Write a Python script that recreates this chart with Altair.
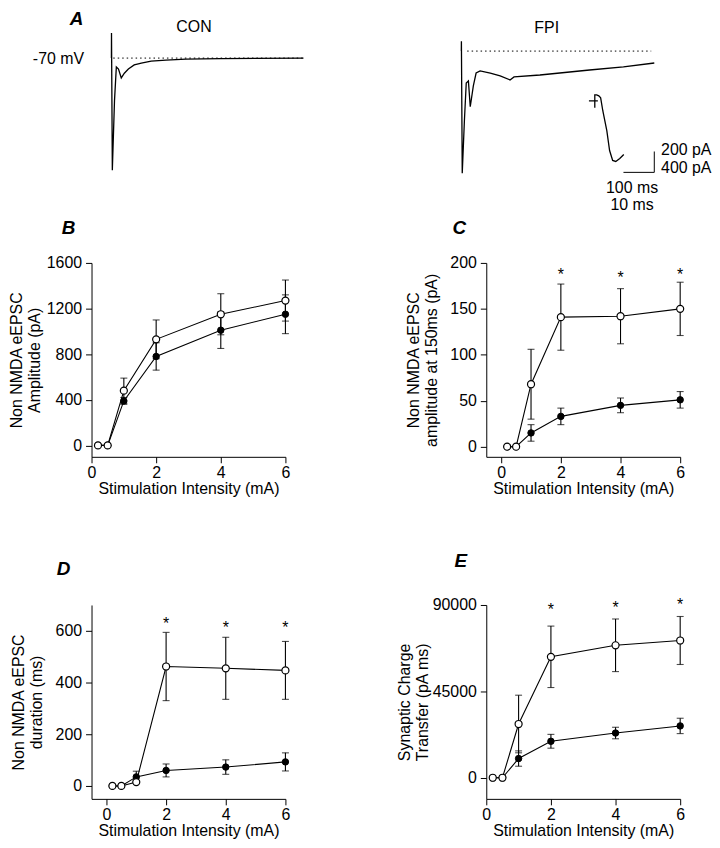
import altair as alt
import pandas as pd

FONT = "Liberation Sans"

# ---------------- Panel A: example traces (ms, pA relative to holding level) ----------------
con_t = [0, 0.3, 3, 10, 16, 23, 32, 42, 55, 74, 97, 129, 177, 242, 355, 623]
con_i = [0, 240, -1075, -410, -85, -105, -190, -145, -105, -65, -48, -29, -19, -10, -5, 0]
con_dot_t = [6, 623]

fpi_t = [0, 0.3, 3, 10, 16, 23, 29, 39, 48, 61, 94, 126, 158, 171, 255, 416, 526, 626]
fpi_i = [0, 95, -1170, -667, -305, -286, -533, -333, -210, -190, -210, -238, -276, -248,
         -229, -181, -152, -114]
fpi_dot_t = [19, 616]

# inset: first 10 ms of the FPI response
inset_t = [-1.9, 1.0, 0, 0, 0, 0.6, 1.3, 1.9, 2.6, 3.9, 4.8, 5.8, 6.8, 8.1, 9.4]
inset_i = [0, 0, 0, -133, 114, 114, 95, 57, -190, -571, -952, -1143, -1162, -1105, -1029]

# scale bar (FPI units) and its labels
bar_t0 = [526, 626]
bar_t1 = [626, 626]
bar_i0 = [-1162, -1162]
bar_i1 = [-1162, -962]
bar_labels_side = ["200 pA", "400 pA"]
bar_side_t = [648, 648]
bar_side_i = [-952, -1124]
bar_labels_below = ["100 ms", "10 ms"]
bar_below_t = [554, 554]
bar_below_i = [-1314, -1476]

# ---------------- Panels B-E ----------------
stim = [0.2, 0.5, 1, 2, 4, 6]

b_open = [0, 0, 480, 930, 1150, 1270]
b_open_err = [0, 0, 110, 170, 180, 180]
b_filled = [0, 0, 390, 780, 1010, 1150]
b_filled_err = [0, 0, 30, 120, 160, 170]

c_open = [0, 0, 68, 141, 142, 150]
c_open_err = [0, 0, 38, 36, 30, 29]
c_filled = [0, 0, 15, 33, 45, 51]
c_filled_err = [0, 0, 9, 9, 8, 9]

d_open = [0, 0, 15, 462, 455, 447]
d_open_err = [0, 0, 0, 132, 120, 112]
d_filled = [0, 0, 35, 60, 73, 93]
d_filled_err = [0, 0, 22, 25, 28, 35]

e_open = [0, 0, 28000, 63000, 69000, 71500]
e_open_err = [0, 0, 15000, 16000, 13700, 12500]
e_filled = [0, 0, 10000, 19000, 23300, 27000]
e_filled_err = [0, 0, 4000, 3600, 3000, 4000]

star_x = [2, 4, 6]
c_star = [191, 188, 191]
d_star = [642, 627, 627]
e_star = [89500, 90500, 92000]

XTICKS = [0, 2, 4, 6]
X_TITLE = "Stimulation Intensity (mA)"

W = 195
H = 195
HA = 74


def trace_df(t, i):
    return pd.DataFrame({"t": t, "i": i, "idx": list(range(len(t)))})


# ---------------- CON panel ----------------
con_xs = alt.Scale(domain=[-64.5, 564.5], nice=False, zero=False)
con_ys = alt.Scale(domain=[-543, 162], nice=False, zero=False)
con_yaxis = alt.Axis(values=[0], labelExpr="'-70 mV'", domain=False, ticks=False,
                     labelPadding=8, labelFontSize=16, title=None, grid=False)


def cx(field):
    return alt.X(field, type="quantitative", scale=con_xs, axis=None)


def cy(field):
    return alt.Y(field, type="quantitative", scale=con_ys, axis=con_yaxis)


con_trace = alt.Chart(trace_df(con_t, con_i)).mark_line(
    color="black", strokeWidth=1.3).encode(x=cx("t"), y=cy("i"), order="idx:Q")
con_dots = alt.Chart(pd.DataFrame({"t0": [con_dot_t[0]], "t1": [con_dot_t[1]], "i": [0]})).mark_rule(
    color="black", strokeDash=[1.5, 3], strokeWidth=1).encode(x=cx("t0"), x2="t1:Q", y=cy("i"))
con_letter = alt.Chart(pd.DataFrame({"t": [-135], "i": [314], "s": ["A"]})).mark_text(
    align="left", baseline="alphabetic", fontSize=19, fontStyle="italic", fontWeight="bold",
    color="black").encode(x=cx("t"), y=cy("i"), text="s:N")
con_label = alt.Chart(pd.DataFrame({"t": [268], "i": [248], "s": ["CON"]})).mark_text(
    align="center", baseline="alphabetic", fontSize=16, color="black").encode(
    x=cx("t"), y=cy("i"), text="s:N")

con_chart = alt.layer(con_trace, con_dots, con_letter, con_label).properties(width=W, height=HA)

# ---------------- FPI panel ----------------
fpi_xs = alt.Scale(domain=[81, 710], nice=False, zero=False)
fpi_ys = alt.Scale(domain=[-610, 95], nice=False, zero=False)
ins_xs = alt.Scale(domain=[-35.2, 27.7], nice=False, zero=False)
ins_ys = alt.Scale(domain=[-267, 1143], nice=False, zero=False)


def fx(field, s=fpi_xs):
    return alt.X(field, type="quantitative", scale=s, axis=None)


def fy(field, s=fpi_ys):
    return alt.Y(field, type="quantitative", scale=s, axis=None)


fpi_trace = alt.Chart(trace_df(fpi_t, fpi_i)).mark_line(
    color="black", strokeWidth=1.3).encode(x=fx("t"), y=fy("i"), order="idx:Q")
fpi_dots = alt.Chart(pd.DataFrame({"t0": [fpi_dot_t[0]], "t1": [fpi_dot_t[1]], "i": [0]})).mark_rule(
    color="black", strokeDash=[1.5, 3], strokeWidth=1).encode(x=fx("t0"), x2="t1:Q", y=fy("i"))
inset_trace = alt.Chart(trace_df(inset_t, inset_i)).mark_line(
    color="black", strokeWidth=1.3).encode(x=fx("t", ins_xs), y=fy("i", ins_ys), order="idx:Q")
bar = alt.Chart(pd.DataFrame({"t0": bar_t0, "t1": bar_t1, "i0": bar_i0, "i1": bar_i1})).mark_rule(
    color="black", strokeWidth=1).encode(x=fx("t0"), x2="t1:Q", y=fy("i0"), y2="i1:Q")
bar_side = alt.Chart(pd.DataFrame({"t": bar_side_t, "i": bar_side_i, "s": bar_labels_side})).mark_text(
    align="left", baseline="middle", fontSize=16, color="black").encode(
    x=fx("t"), y=fy("i"), text="s:N")
bar_below = alt.Chart(pd.DataFrame({"t": bar_below_t, "i": bar_below_i, "s": bar_labels_below})).mark_text(
    align="center", baseline="middle", fontSize=16, color="black").encode(
    x=fx("t"), y=fy("i"), text="s:N")
fpi_label = alt.Chart(pd.DataFrame({"t": [277], "i": [172], "s": ["FPI"]})).mark_text(
    align="center", baseline="alphabetic", fontSize=16, color="black").encode(
    x=fx("t"), y=fy("i"), text="s:N")

fpi_chart = alt.layer(fpi_trace, fpi_dots, inset_trace, bar, bar_side, bar_below, fpi_label).resolve_scale(
    x="independent", y="independent").properties(width=W, height=HA)


# ---------------- summary panels ----------------
def summary_panel(letter, dx, offset, open_v, open_e, filled_v, filled_e, xdomain, ydomain,
                  yticks, ytitle, title_pad, stars=None):
    rows = []
    for s, vals, errs in (("filled", filled_v, filled_e), ("open", open_v, open_e)):
        for x, v, e in zip(stim, vals, errs):
            rows.append(dict(stim=x, val=v, lo=v - e, hi=v + e, err=e, series=s))
    df = pd.DataFrame(rows)

    xs = alt.Scale(domain=xdomain, nice=False, zero=False)
    ys = alt.Scale(domain=ydomain, nice=False, zero=False)
    xaxis = alt.Axis(values=XTICKS, title=X_TITLE, labelPadding=2, titlePadding=0,
                     labelFlush=False, format="d")
    yaxis = alt.Axis(values=yticks, title=ytitle, labelPadding=4, titlePadding=title_pad,
                     labelFlush=False, format="d", titleLineHeight=18)

    def X(field):
        return alt.X(field, type="quantitative", scale=xs, axis=xaxis)

    def Y(field):
        return alt.Y(field, type="quantitative", scale=ys, axis=yaxis)

    base = alt.Chart(df)
    lines = base.mark_line(color="black", strokeWidth=1.1).encode(
        x=X("stim"), y=Y("val"), detail="series:N")
    errs = base.transform_filter("datum.err > 0").mark_rule(color="black", strokeWidth=1.1).encode(
        x=X("stim"), y=Y("lo"), y2="hi:Q")
    caps = base.transform_filter("datum.err > 0").transform_fold(
        ["lo", "hi"], as_=["end", "yv"]).mark_tick(
        orient="horizontal", size=7, thickness=1.1, color="black").encode(x=X("stim"), y=Y("yv"))
    filled_pts = base.transform_filter("datum.series == 'filled'").mark_point(
        shape="circle", filled=True, fill="black", stroke="black", strokeWidth=1, size=42,
        opacity=1).encode(x=X("stim"), y=Y("val"))
    open_pts = base.transform_filter("datum.series == 'open'").mark_point(
        shape="circle", filled=True, fill="white", stroke="black", strokeWidth=1.2, size=50,
        opacity=1).encode(x=X("stim"), y=Y("val"))
    layers = [lines, errs, caps, filled_pts, open_pts]
    if stars is not None:
        sdf = pd.DataFrame({"stim": star_x, "val": stars})
        layers.append(alt.Chart(sdf).mark_text(text="*", fontSize=16, baseline="middle", dy=4,
                                               color="black").encode(x=X("stim"), y=Y("val")))
    return alt.layer(*layers).properties(
        width=W, height=H,
        title=alt.TitleParams(letter, anchor="start", frame="group", dx=dx, offset=offset,
                              fontSize=19, fontStyle="italic", fontWeight="bold", font=FONT,
                              color="black"))


b_chart = summary_panel("B", -30, 17, b_open, b_open_err, b_filled, b_filled_err,
                        [0, 6], [-100, 1600], [0, 400, 800, 1200, 1600],
                        ["Non NMDA eEPSC", "Amplitude (pA)"], 4)
c_chart = summary_panel("C", -34, 17, c_open, c_open_err, c_filled, c_filled_err,
                        [-0.5, 6], [-11, 200], [0, 50, 100, 150, 200],
                        ["Non NMDA eEPSC", "amplitude at 150ms (pA)"], 10, c_star)
d_chart = summary_panel("D", -35, 26, d_open, d_open_err, d_filled, d_filled_err,
                        [-0.5, 6], [-50, 700], [0, 200, 400, 600],
                        ["Non NMDA eEPSC", "duration (ms)"], 11, d_star)
e_chart = summary_panel("E", -32, 26, e_open, e_open_err, e_filled, e_filled_err,
                        [0, 6], [-11000, 90000], [0, 45000, 90000],
                        ["Synaptic Charge", "Transfer (pA ms)"], 2, e_star)

chart = alt.concat(
    con_chart, fpi_chart, b_chart, c_chart, d_chart, e_chart,
    columns=2, spacing={"row": 149, "column": 202}, bounds="flush",
).properties(padding=0).configure_axis(
    domainColor="black", tickColor="black", labelColor="black", titleColor="black",
    labelFont=FONT, titleFont=FONT, labelFontSize=16, titleFontSize=16,
    titleFontWeight="normal", grid=False, tickSize=6, domainWidth=1, tickWidth=1,
).configure_view(stroke=None).configure_text(font=FONT).configure_title(font=FONT)

chart.save("out.html", embed_options={"renderer": "svg", "actions": False})
